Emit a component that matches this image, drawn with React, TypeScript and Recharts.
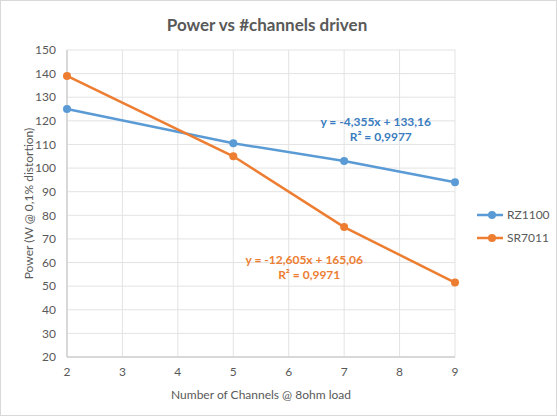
import React from 'react';
import { LineChart, Line, XAxis, YAxis, CartesianGrid, ReferenceDot } from 'recharts';

const channels = [2, 5, 7, 9];
const rz1100 = [125, 110.5, 103, 94];
const sr7011 = [139, 105, 75, 51.5];
const xTicks = [2, 3, 4, 5, 6, 7, 8, 9];
const yTicks = [20, 30, 40, 50, 60, 70, 80, 90, 100, 110, 120, 130, 140, 150];

const seriesNames = ['RZ1100', 'SR7011'];
const colors = ['#5b9bd5', '#ed7d31'];
const labelColors = ['#3a7cc0', '#ed7d31'];
const trendText = [
  ['y = -4,355x + 133,16', 'R² = 0,9977'],
  ['y = -12,605x + 165,06', 'R² = 0,9971'],
];
// where the trendline equations sit, in data units
const trendAt = [
  { x: 7.57, y: 118 },
  { x: 6.28, y: 59.5 },
];

const data = channels.map((c, i) => ({ x: c, rz: rz1100[i], sr: sr7011[i] }));

const font = 'Lato, "Open Sans", sans-serif';
const grey = '#595959';

const trendLabel = (lines: string[], color: string) => (props: any) => {
  const vb = props.viewBox || {};
  const cx = vb.cx ?? vb.x;
  const cy = vb.cy ?? vb.y;
  return (
    <text x={cx} y={cy} fill={color} fontSize={12} fontWeight={700} fontFamily={font} textAnchor="middle">
      <tspan x={cx} dy={0}>{lines[0]}</tspan>
      <tspan x={cx + 5} dy={15}>{lines[1]}</tspan>
    </text>
  );
};

export default function App() {
  return (
    <div
      style={{
        position: 'absolute',
        left: 0,
        top: 0,
        width: 557,
        height: 416,
        border: '1px solid #d9d9d9',
        boxSizing: 'border-box',
        background: '#fff',
      }}
    >
      <div
        style={{
          position: 'absolute',
          left: 0,
          width: 532,
          top: 13,
          textAlign: 'center',
          fontFamily: font,
          fontWeight: 700,
          fontSize: 17,
          color: grey,
        }}
      >
        Power vs #channels driven
      </div>
      <LineChart
        width={555}
        height={414}
        data={data}
        margin={{ top: 49, right: 101, left: 0, bottom: 0 }}
        style={{ position: 'absolute', left: 0, top: 0 }}
      >
        <CartesianGrid stroke="#e3e3e3" strokeWidth={1} />
        <XAxis
          type="number"
          dataKey="x"
          domain={[2, 9]}
          ticks={xTicks}
          interval={0}
          height={58}
          axisLine={{ stroke: '#bfbfbf' }}
          tickLine={false}
          tickSize={6}
          tickMargin={4}
          tick={{ fill: grey, fontSize: 12, fontFamily: font }}
          label={{
            value: 'Number  of Channels @ 8ohm  load',
            position: 'insideBottom',
            offset: 16,
            fill: grey,
            fontSize: 12,
            fontFamily: font,
          }}
        />
        <YAxis
          domain={[20, 150]}
          ticks={yTicks}
          interval={0}
          width={66}
          axisLine={{ stroke: '#bfbfbf' }}
          tickLine={false}
          tickSize={6}
          tickMargin={5}
          tick={{ fill: grey, fontSize: 12, fontFamily: font }}
          label={{
            value: 'Power (W @ 0,1% distortion)',
            angle: -90,
            position: 'center',
            dx: -5,
            fill: grey,
            fontSize: 12,
            fontFamily: font,
          }}
        />
        <Line
          name={seriesNames[0]}
          dataKey="rz"
          stroke={colors[0]}
          strokeWidth={2.5}
          dot={{ r: 4, fill: colors[0], stroke: colors[0], strokeWidth: 0 }}
          isAnimationActive={false}
        />
        <Line
          name={seriesNames[1]}
          dataKey="sr"
          stroke={colors[1]}
          strokeWidth={2.5}
          dot={{ r: 4, fill: colors[1], stroke: colors[1], strokeWidth: 0 }}
          isAnimationActive={false}
        />
        {trendAt.map((p, i) => (
          <ReferenceDot
            key={i}
            x={p.x}
            y={p.y}
            r={0}
            fill="none"
            stroke="none"
            label={{ content: trendLabel(trendText[i], labelColors[i]) }}
          />
        ))}
      </LineChart>
      <div style={{ position: 'absolute', left: 476, top: 202, fontFamily: font, fontSize: 12, color: grey }}>
        {seriesNames.map((n, i) => (
          <div key={n} style={{ display: 'flex', alignItems: 'center', height: 23 }}>
            <svg width={28} height={10}>
              <line x1={0} y1={5} x2={26} y2={5} stroke={colors[i]} strokeWidth={2.5} />
              <circle cx={15} cy={5} r={4} fill={colors[i]} />
            </svg>
            <span style={{ marginLeft: 2 }}>{n}</span>
          </div>
        ))}
      </div>
    </div>
  );
}
